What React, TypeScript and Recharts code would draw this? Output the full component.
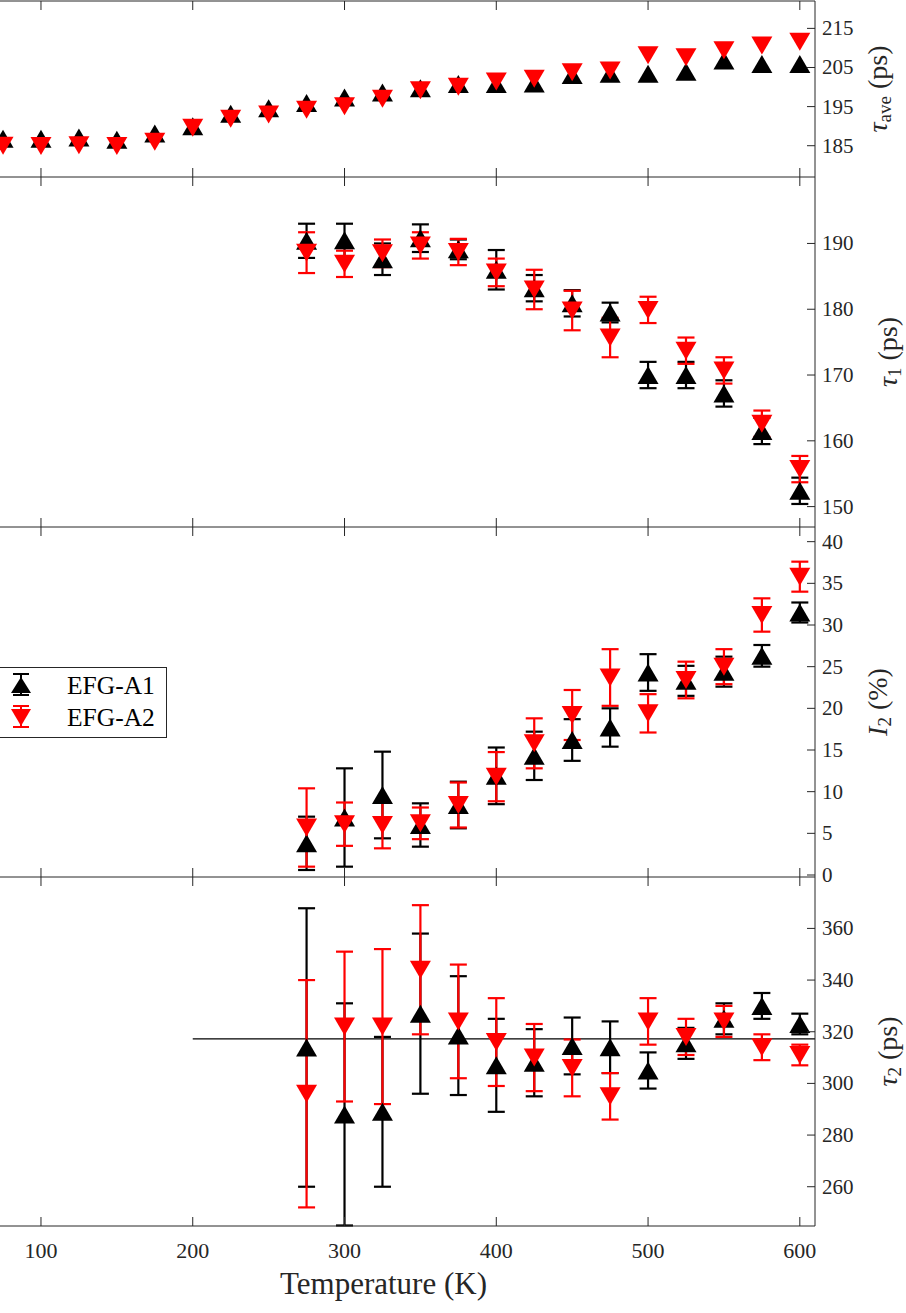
import React from 'react';
import { ScatterChart, Scatter, XAxis, YAxis, ErrorBar, ReferenceLine, Legend } from 'recharts';

// temperatures (K)
const TEMPS_ALL = [75, 100, 125, 150, 175, 200, 225, 250, 275, 300, 325, 350, 375, 400, 425, 450, 475, 500, 525, 550, 575, 600];
const TEMPS = [275, 300, 325, 350, 375, 400, 425, 450, 475, 500, 525, 550, 575, 600];

// average lifetime (ps)
const TAU_AVE_A1 = [186.8, 186.8, 187.1, 186.5, 188.1, 190.0, 193.2, 194.6, 195.9, 197.3, 198.6, 199.7, 200.8, 200.8, 200.9, 203.1, 203.4, 203.4, 203.9, 206.8, 205.9, 205.9];
const TAU_AVE_A2 = [185.0, 184.9, 185.1, 184.9, 186.0, 189.6, 191.9, 193.0, 194.2, 195.1, 197.0, 199.2, 200.1, 201.4, 202.1, 203.8, 204.2, 208.1, 207.6, 209.4, 210.6, 211.6];

// tau1 (ps)
const TAU1_A1 = [190.4, 190.5, 187.6, 190.8, 189.1, 186.0, 183.2, 180.9, 179.5, 170.0, 170.0, 167.2, 161.5, 152.4];
const TAU1_A1_ERR = [2.6, 2.5, 2.4, 2.1, 1.5, 3.0, 2.0, 2.0, 1.5, 2.0, 2.0, 2.0, 2.0, 2.0];
const TAU1_A2 = [188.6, 186.9, 188.5, 189.7, 188.7, 185.6, 183.0, 179.8, 175.7, 179.9, 173.7, 170.7, 162.6, 155.7];
const TAU1_A2_ERR = [3.1, 2.0, 2.1, 2.0, 2.0, 2.1, 3.0, 3.0, 3.0, 2.0, 2.0, 2.0, 2.0, 2.0];

// I2 (%)
const I2_A1 = [3.8, 6.9, 9.6, 6.0, 8.4, 11.9, 14.3, 16.2, 17.7, 24.3, 23.3, 24.4, 26.3, 31.5];
const I2_A1_ERR = [3.2, 5.9, 5.2, 2.6, 2.8, 3.4, 2.9, 2.5, 2.3, 2.2, 1.8, 1.8, 1.3, 1.2];
const I2_A2 = [5.7, 6.1, 6.0, 6.2, 8.4, 11.8, 15.8, 19.2, 23.7, 19.4, 23.4, 25.0, 31.2, 35.8];
const I2_A2_ERR = [4.7, 2.6, 2.8, 1.9, 2.7, 2.95, 3.0, 3.0, 3.4, 2.3, 2.2, 2.1, 2.0, 1.8];

// tau2 (ps)
const TAU2_A1 = [313.9, 288, 289, 327, 318.5, 307, 308, 314.5, 314, 305, 315.5, 325, 330, 323];
const TAU2_A1_ERR = [53.9, 43, 29, 31, 23, 18, 13, 11, 10, 7, 6, 6, 5, 4];
const TAU2_A2 = [296, 322, 322, 344, 324, 316, 310, 306, 295, 324, 318, 324, 314, 311];
const TAU2_A2_ERR = [44, 29, 30, 25, 22, 17, 13, 11, 9, 9, 7, 6, 5, 4];
const TAU2_MEAN = 317.2;
const TAU2_MEAN_FROM = 200;

const SERIES_NAMES = ['EFG-A1', 'EFG-A2'];
const X_TICKS = [100, 200, 300, 400, 500, 600];
const X_DOMAIN: [number, number] = [73, 610];

const FONT = "'Liberation Serif', 'Times New Roman', serif";
const AXIS = '#262626';
const RED = '#ff0000';

const zip = (ts: number[], vs: number[], es?: number[]) =>
  ts.map((t, i) => ({ t, v: vs[i], e: es ? es[i] : 0 }));

const UpTri = (p: any) => {
  const { cx, cy } = p;
  return <polygon points={`${cx},${cy - 9} ${cx - 10.5},${cy + 9} ${cx + 10.5},${cy + 9}`} fill="#000" />;
};
const DownTri = (p: any) => {
  const { cx, cy } = p;
  return <polygon points={`${cx - 10.5},${cy - 9} ${cx + 10.5},${cy - 9} ${cx},${cy + 9}`} fill={RED} />;
};

const makeXTick = (plotH: number, showLabel: boolean) => (props: any) => {
  const { x, y, payload } = props;
  return (
    <g>
      <line x1={x} y1={y} x2={x} y2={y - 9} stroke={AXIS} />
      <line x1={x} y1={y - plotH} x2={x} y2={y - plotH + 9} stroke={AXIS} />
      {showLabel && (
        <text x={x} y={y + 24} textAnchor="middle" dominantBaseline="central" fontFamily={FONT} fontSize={22} fill={AXIS}>
          {payload.value}
        </text>
      )}
    </g>
  );
};

const YTick = (props: any) => {
  const { x, y, payload } = props;
  return (
    <g>
      <line x1={x} y1={y} x2={x - 8} y2={y} stroke={AXIS} />
      <text x={x + 7} y={y} dominantBaseline="central" fontFamily={FONT} fontSize={21} fill={AXIS}>
        {payload.value}
      </text>
    </g>
  );
};

const YLabel = (props: any) => {
  const { viewBox, dx, sym, sub, unit, italicSym } = props;
  const cx = viewBox.x + dx;
  const cy = viewBox.y + viewBox.height / 2;
  return (
    <text
      x={cx}
      y={cy}
      transform={`rotate(-90 ${cx} ${cy})`}
      textAnchor="middle"
      dominantBaseline="central"
      fontFamily={FONT}
      fontSize={28}
      fill={AXIS}
    >
      <tspan fontStyle={italicSym ? 'italic' : 'normal'}>{sym}</tspan>
      <tspan dy={7} fontSize={19}>{sub}</tspan>
      <tspan dy={-7}>{` (${unit})`}</tspan>
    </text>
  );
};

const XTitle = (props: any) => {
  const { viewBox } = props;
  return (
    <text
      x={viewBox.x + viewBox.width / 2 - 24}
      y={viewBox.y + 57}
      textAnchor="middle"
      dominantBaseline="central"
      fontFamily={FONT}
      fontSize={31}
      fill={AXIS}
    >
      Temperature (K)
    </text>
  );
};

const LegendBox = (props: any) => {
  const items = props.payload && props.payload.length ? props.payload : SERIES_NAMES.map((n, i) => ({ value: n, color: i ? RED : '#000' }));
  return (
    <svg width={168} height={71} style={{ display: 'block' }}>
      <rect x={-1} y={0.5} width={167.5} height={70} fill="#fff" stroke={AXIS} />
      {items.map((it: any, i: number) => {
        const cy = 18 + i * 32;
        const cx = 21;
        const c = i ? RED : '#000';
        const tri = i
          ? `${cx - 10},${cy - 8} ${cx + 10},${cy - 8} ${cx},${cy + 9}`
          : `${cx},${cy - 8} ${cx - 10},${cy + 8} ${cx + 10},${cy + 8}`;
        return (
          <g key={it.value}>
            <line x1={cx} y1={cy - 11} x2={cx} y2={cy + 10} stroke={c} strokeWidth={2} />
            <line x1={cx - 8} y1={cy - 11} x2={cx + 8} y2={cy - 11} stroke={c} strokeWidth={2} />
            <line x1={cx - 8} y1={cy + 10} x2={cx + 8} y2={cy + 10} stroke={c} strokeWidth={2} />
            <polygon points={tri} fill={c} />
            <text x={67} y={cy} dominantBaseline="central" fontFamily={FONT} fontSize={25.5} fill="#000">
              {it.value}
            </text>
          </g>
        );
      })}
    </svg>
  );
};

interface PanelProps {
  top: number;
  height: number;
  mTop: number;
  mBottom: number;
  yDomain: [number, number];
  yTicks: number[];
  a1: { t: number; v: number; e: number }[];
  a2: { t: number; v: number; e: number }[];
  errors: boolean;
  label: { sym: string; sub: string; unit: string; dx: number; italicSym: boolean };
  last?: boolean;
  legend?: boolean;
  topBorder?: boolean;
  meanLine?: boolean;
}

// axes need a non-zero size to be drawn, so 1px each
const AX_SIZE = 1;

function Panel(p: PanelProps) {
  const plotH = p.height - p.mTop - p.mBottom;
  return (
    <div style={{ position: 'absolute', left: 0, top: p.top }}>
      <ScatterChart
        width={906}
        height={p.height}
        margin={{ top: p.mTop, right: 91 - AX_SIZE, bottom: p.mBottom - AX_SIZE, left: 0 }}
      >
        <XAxis
          type="number"
          dataKey="t"
          domain={X_DOMAIN}
          ticks={X_TICKS}
          allowDataOverflow
          height={AX_SIZE}
          interval={0}
          tickSize={0}
          tickMargin={0}
          tickLine={false}
          axisLine={{ stroke: AXIS }}
          tick={makeXTick(plotH, !!p.last)}
          label={p.last ? <XTitle /> : undefined}
        />
        <YAxis
          type="number"
          dataKey="v"
          orientation="right"
          domain={p.yDomain}
          ticks={p.yTicks}
          allowDataOverflow
          width={AX_SIZE}
          interval={0}
          tickSize={0}
          tickMargin={0}
          tickLine={false}
          axisLine={{ stroke: AXIS }}
          tick={YTick}
          label={<YLabel {...p.label} />}
        />
        {p.topBorder && <ReferenceLine y={p.yDomain[1]} stroke={AXIS} />}
        {p.meanLine && (
          <ReferenceLine
            segment={[
              { x: TAU2_MEAN_FROM, y: TAU2_MEAN },
              { x: X_DOMAIN[1], y: TAU2_MEAN },
            ]}
            stroke="#000"
            strokeWidth={1.2}
          />
        )}
        <Scatter name={SERIES_NAMES[0]} data={p.a1} fill="#000" shape={UpTri} isAnimationActive={false}>
          {p.errors && (
            <ErrorBar dataKey="e" direction="y" width={8.5} strokeWidth={2.2} stroke="#000" isAnimationActive={false} />
          )}
        </Scatter>
        <Scatter name={SERIES_NAMES[1]} data={p.a2} fill={RED} shape={DownTri} isAnimationActive={false}>
          {p.errors && (
            <ErrorBar dataKey="e" direction="y" width={8.5} strokeWidth={2.2} stroke={RED} isAnimationActive={false} />
          )}
        </Scatter>
        {p.legend && (
          <Legend
            layout="horizontal"
            verticalAlign="middle"
            align="center"
            content={LegendBox}
            wrapperStyle={{ left: 0, top: 147, width: 168, height: 71 }}
          />
        )}
      </ScatterChart>
    </div>
  );
}

export default function App() {
  return (
    <div style={{ position: 'absolute', left: 0, top: 0, width: 906, height: 1313, background: '#fff', overflow: 'hidden' }}>
      <Panel
        top={0}
        height={190}
        mTop={1}
        mBottom={13}
        yDomain={[177, 222]}
        yTicks={[185, 195, 205, 215]}
        a1={zip(TEMPS_ALL, TAU_AVE_A1)}
        a2={zip(TEMPS_ALL, TAU_AVE_A2)}
        errors={false}
        topBorder
        label={{ sym: 'τ', sub: 'ave', unit: 'ps', dx: 62, italicSym: true }}
      />
      <Panel
        top={170}
        height={370}
        mTop={7}
        mBottom={13}
        yDomain={[146.9, 200.1]}
        yTicks={[150, 160, 170, 180, 190]}
        a1={zip(TEMPS, TAU1_A1, TAU1_A1_ERR)}
        a2={zip(TEMPS, TAU1_A2, TAU1_A2_ERR)}
        errors
        label={{ sym: 'τ', sub: '1', unit: 'ps', dx: 72, italicSym: true }}
      />
      <Panel
        top={520}
        height={370}
        mTop={7}
        mBottom={13}
        yDomain={[-0.24, 41.76]}
        yTicks={[0, 5, 10, 15, 20, 25, 30, 35, 40]}
        a1={zip(TEMPS, I2_A1, I2_A1_ERR)}
        a2={zip(TEMPS, I2_A2, I2_A2_ERR)}
        errors
        legend
        label={{ sym: 'I', sub: '2', unit: '%', dx: 62, italicSym: true }}
      />
      <Panel
        top={870}
        height={443}
        mTop={7}
        mBottom={87}
        yDomain={[244.8, 379.9]}
        yTicks={[260, 280, 300, 320, 340, 360]}
        a1={zip(TEMPS, TAU2_A1, TAU2_A1_ERR)}
        a2={zip(TEMPS, TAU2_A2, TAU2_A2_ERR)}
        errors
        last
        meanLine
        label={{ sym: 'τ', sub: '2', unit: 'ps', dx: 72, italicSym: true }}
      />
    </div>
  );
}
